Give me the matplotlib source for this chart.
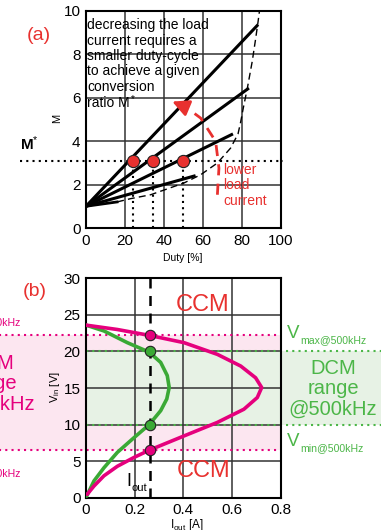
import matplotlib
matplotlib.use('Agg')
import matplotlib.pyplot as plt

plt.rcParams['font.family'] = ['Liberation Sans', 'DejaVu Sans']
plt.rcParams['mathtext.fontset'] = 'custom'
plt.rcParams['mathtext.rm'] = 'Liberation Sans'
plt.rcParams['mathtext.it'] = 'Liberation Sans'

RED = '#e8312f'
PINK = '#e5007d'
GREEN = '#3aa935'
GREEN_TXT = '#4cb648'

# ---- (a) conversion ratio vs duty ----
line_duty = [[0, 88.4], [0, 83.7], [0, 75.5], [0, 56.3]]
line_m = [[1.0, 9.36], [1.0, 6.44], [1.0, 4.33], [1.0, 2.41]]
low_duty = [0, 16]
low_m = [1.0, 1.2]
bound_duty = [16, 22.9, 33.2, 50.3, 58.9, 67.5, 74.3, 78.1, 79.5, 80.8, 82.9, 85.4, 87.2, 88.4, 89.2]
bound_m = [1.2, 1.35, 1.53, 2.07, 2.45, 2.99, 3.68, 4.33, 4.9, 5.52, 6.44, 7.67, 8.74, 9.5, 10.05]
m_star = 3.1
op_duty = [24, 34.5, 49.7]
arrow_duty = [67.5, 68.3, 66.6, 58.9, 51.5]
arrow_m = [1.53, 2.76, 3.99, 5.06, 5.55]
arrow_tip = (44.3, 5.82)

# ---- (b) Vin vs Iout ----
pink_i = [0, 0.129, 0.26, 0.403, 0.54, 0.636, 0.697, 0.722, 0.704, 0.649, 0.54, 0.403,
          0.26, 0.197, 0.129, 0.074, 0.033, 0.005]
pink_v = [23.6, 23.0, 22.2, 21.2, 19.6, 18.0, 16.4, 15.07, 13.7, 12.1, 10.3, 8.45,
          6.5, 5.5, 4.3, 3.0, 1.6, 0.46]
green_i = [0, 0.074, 0.17, 0.26, 0.307, 0.334, 0.342, 0.332, 0.307, 0.26, 0.197, 0.129,
           0.074, 0.033, 0.003]
green_v = [23.6, 22.8, 21.2, 19.9, 18.5, 16.7, 15.07, 13.5, 11.9, 10.0, 8.2, 6.2,
           4.1, 2.3, 0.23]
i_out = 0.262
pink_lim = [6.5, 22.25]
green_lim = [10.0, 20.0]


def sub_label(ax, x, y, main, sub, color, size=13.5, subsize=7.6, align='left', dy=-3.5):
    # big letter with a smaller subscript (or superscript), offsets in points
    t = ax.annotate(main, (x, y), color=color, fontsize=size, ha='left', va='baseline',
                    annotation_clip=False, zorder=7)
    fig.canvas.draw()
    w = t.get_window_extent().width * 72 / fig.dpi
    s = ax.annotate(sub, (x, y), xytext=(w + 0.5, dy), textcoords='offset points',
                    color=color, fontsize=subsize, ha='left', va='baseline',
                    annotation_clip=False, zorder=7)
    if align == 'right':
        fig.canvas.draw()
        ws = s.get_window_extent().width * 72 / fig.dpi
        t.xyann = (-(w + ws + 0.5), 0)
        t.set_anncoords('offset points')
        s.xyann = (-ws, dy)
    return t, s


fig = plt.figure(figsize=(3.89, 5.30), dpi=100)
ax1 = fig.add_axes([0.221, 0.5698, 0.5005, 0.41])
ax2 = fig.add_axes([0.221, 0.0609, 0.5005, 0.414])

for ax in (ax1, ax2):
    ax.grid(True, color='#333333', lw=1.1)
    ax.set_axisbelow(True)
    ax.tick_params(length=0, pad=4, labelsize=11)
    for s in ax.spines.values():
        s.set_linewidth(1.5)

# (a)
ax1.set_xlim(0, 100)
ax1.set_ylim(0, 10)
ax1.set_xticks([0, 20, 40, 60, 80, 100])
ax1.set_yticks([0, 2, 4, 6, 8, 10])

for d, m in zip(line_duty, line_m):
    ax1.plot(d, m, color='black', lw=2.2, solid_capstyle='butt', zorder=3)
ax1.plot(low_duty, low_m, color='black', lw=2.0, zorder=3)
ax1.plot(bound_duty, bound_m, color='black', lw=1.0, ls=(0, (5, 3)), zorder=3)

ax1.plot([-34, 101], [m_star, m_star], color='black', lw=1.5, ls=(0, (1, 2)),
         clip_on=False, zorder=4)
for d in op_duty:
    ax1.plot([d, d], [0, m_star], color='black', lw=1.5, ls=(0, (1, 2)), zorder=4)
ax1.plot(op_duty, [m_star] * len(op_duty), 'o', ms=8.8, mfc=RED, mec='#222222',
         mew=0.8, zorder=6)

ax1.plot(arrow_duty, arrow_m, color=RED, lw=2.0, ls=(0, (4, 3)), zorder=5)
ax1.annotate('', xy=arrow_tip, xytext=(arrow_duty[-1], arrow_m[-1]),
             arrowprops=dict(arrowstyle='-|>,head_length=1.0,head_width=0.5',
                             color=RED, lw=2.0, shrinkA=0, shrinkB=0), zorder=5)

ax1.text(0.7, 9.66, 'decreasing the load\ncurrent requires a\nsmaller duty-cycle\n'
         'to achieve a given\nconversion',
         fontsize=10, va='top', ha='left', linespacing=1.13, zorder=7)
sub_label(ax1, 0.7, 5.55, 'ratio M', '*', 'black', size=10, subsize=7, dy=3.5)
ax1.text(70.4, 3.0, 'lower\nload\ncurrent', color=RED, fontsize=10, va='top',
         ha='left', linespacing=1.15, zorder=7)
ax1.text(-34, m_star + 0.35, 'M$^{*}$', fontsize=11, fontweight='bold',
         va='bottom', ha='left', clip_on=False)

fig.text(27 / 389, 1 - 36 / 530, '(a)', color=RED, fontsize=14, va='center', ha='left')
fig.text(183 / 389, 1 - 257.5 / 530, 'Duty [%]', fontsize=7.5, va='center', ha='center')
fig.text(57.5 / 389, 1 - 118 / 530, 'M', fontsize=8, rotation=90, va='center', ha='center')

# (b)
ax2.set_xlim(0, 0.8)
ax2.set_ylim(0, 30)
ax2.set_xticks([0, 0.2, 0.4, 0.6, 0.8])
ax2.set_xticklabels(['0', '0.2', '0.4', '0.6', '0.8'])
ax2.set_yticks([0, 5, 10, 15, 20, 25, 30])

ax2.fill_between([-0.36, 0.806], pink_lim[0], pink_lim[1], color='#fce6f0', lw=0,
                 clip_on=False, zorder=0)
ax2.fill_between([0, 1.212], green_lim[0], green_lim[1], color='#e7f2e5', lw=0,
                 clip_on=False, zorder=0)
for v in pink_lim:
    ax2.plot([-0.36, 0.806], [v, v], color=PINK, lw=1.5, ls=(0, (1, 2)),
             clip_on=False, zorder=2)
for v in green_lim:
    ax2.plot([0, 1.212], [v, v], color=GREEN_TXT, lw=1.5, ls=(0, (1, 2)),
             clip_on=False, zorder=2)

ax2.plot([i_out, i_out], [0, 30], color='black', lw=1.8, ls=(0, (4, 3)), zorder=3)
ax2.plot(green_i, green_v, color=GREEN, lw=2.6, zorder=4, solid_capstyle='round')
ax2.plot(pink_i, pink_v, color=PINK, lw=2.6, zorder=4, solid_capstyle='round')
ax2.plot([i_out, i_out], pink_lim, 'o', ms=7.5, mfc=PINK, mec='#222222', mew=0.8, zorder=6)
ax2.plot([i_out, i_out], green_lim, 'o', ms=7.5, mfc=GREEN, mec='#222222', mew=0.8, zorder=6)

ax2.text(0.479, 26.4, 'CCM', color=RED, fontsize=17, ha='center', va='center', zorder=7)
ax2.text(0.483, 3.65, 'CCM', color=RED, fontsize=17, ha='center', va='center', zorder=7)
sub_label(ax2, 0.165, 1.6, 'I', 'out', 'black', size=13, subsize=8)

ax2.text(1.015, 14.9, 'DCM\nrange\n@500kHz', color=GREEN_TXT, fontsize=14.5,
         ha='center', va='center', linespacing=1.08, clip_on=False)
ax2.text(-0.39, 15.6, 'DCM\nrange\n@250kHz', color=PINK, fontsize=14.5,
         ha='center', va='center', linespacing=1.08, clip_on=False)
sub_label(ax2, 0.826, 21.8, 'V', 'max@500kHz', GREEN_TXT)
sub_label(ax2, 0.826, 7.1, 'V', 'min@500kHz', GREEN_TXT)
sub_label(ax2, -0.267, 24.2, 'V', 'max@250kHz', PINK, align='right')
sub_label(ax2, -0.267, 3.6, 'V', 'min@250kHz', PINK, align='right')

fig.text(23 / 389, 1 - 292 / 530, '(b)', color=RED, fontsize=14, va='center', ha='left')
fig.text(187 / 389, 1 - 517 / 530, 'I$_{\\mathrm{out}}$ [A]', fontsize=8.5, va='top', ha='center')
fig.text(55 / 389, 1 - 387 / 530, 'V$_{\\mathrm{in}}$ [V]', fontsize=8, rotation=90,
         va='center', ha='center')

fig.savefig('out.png', dpi=100)
